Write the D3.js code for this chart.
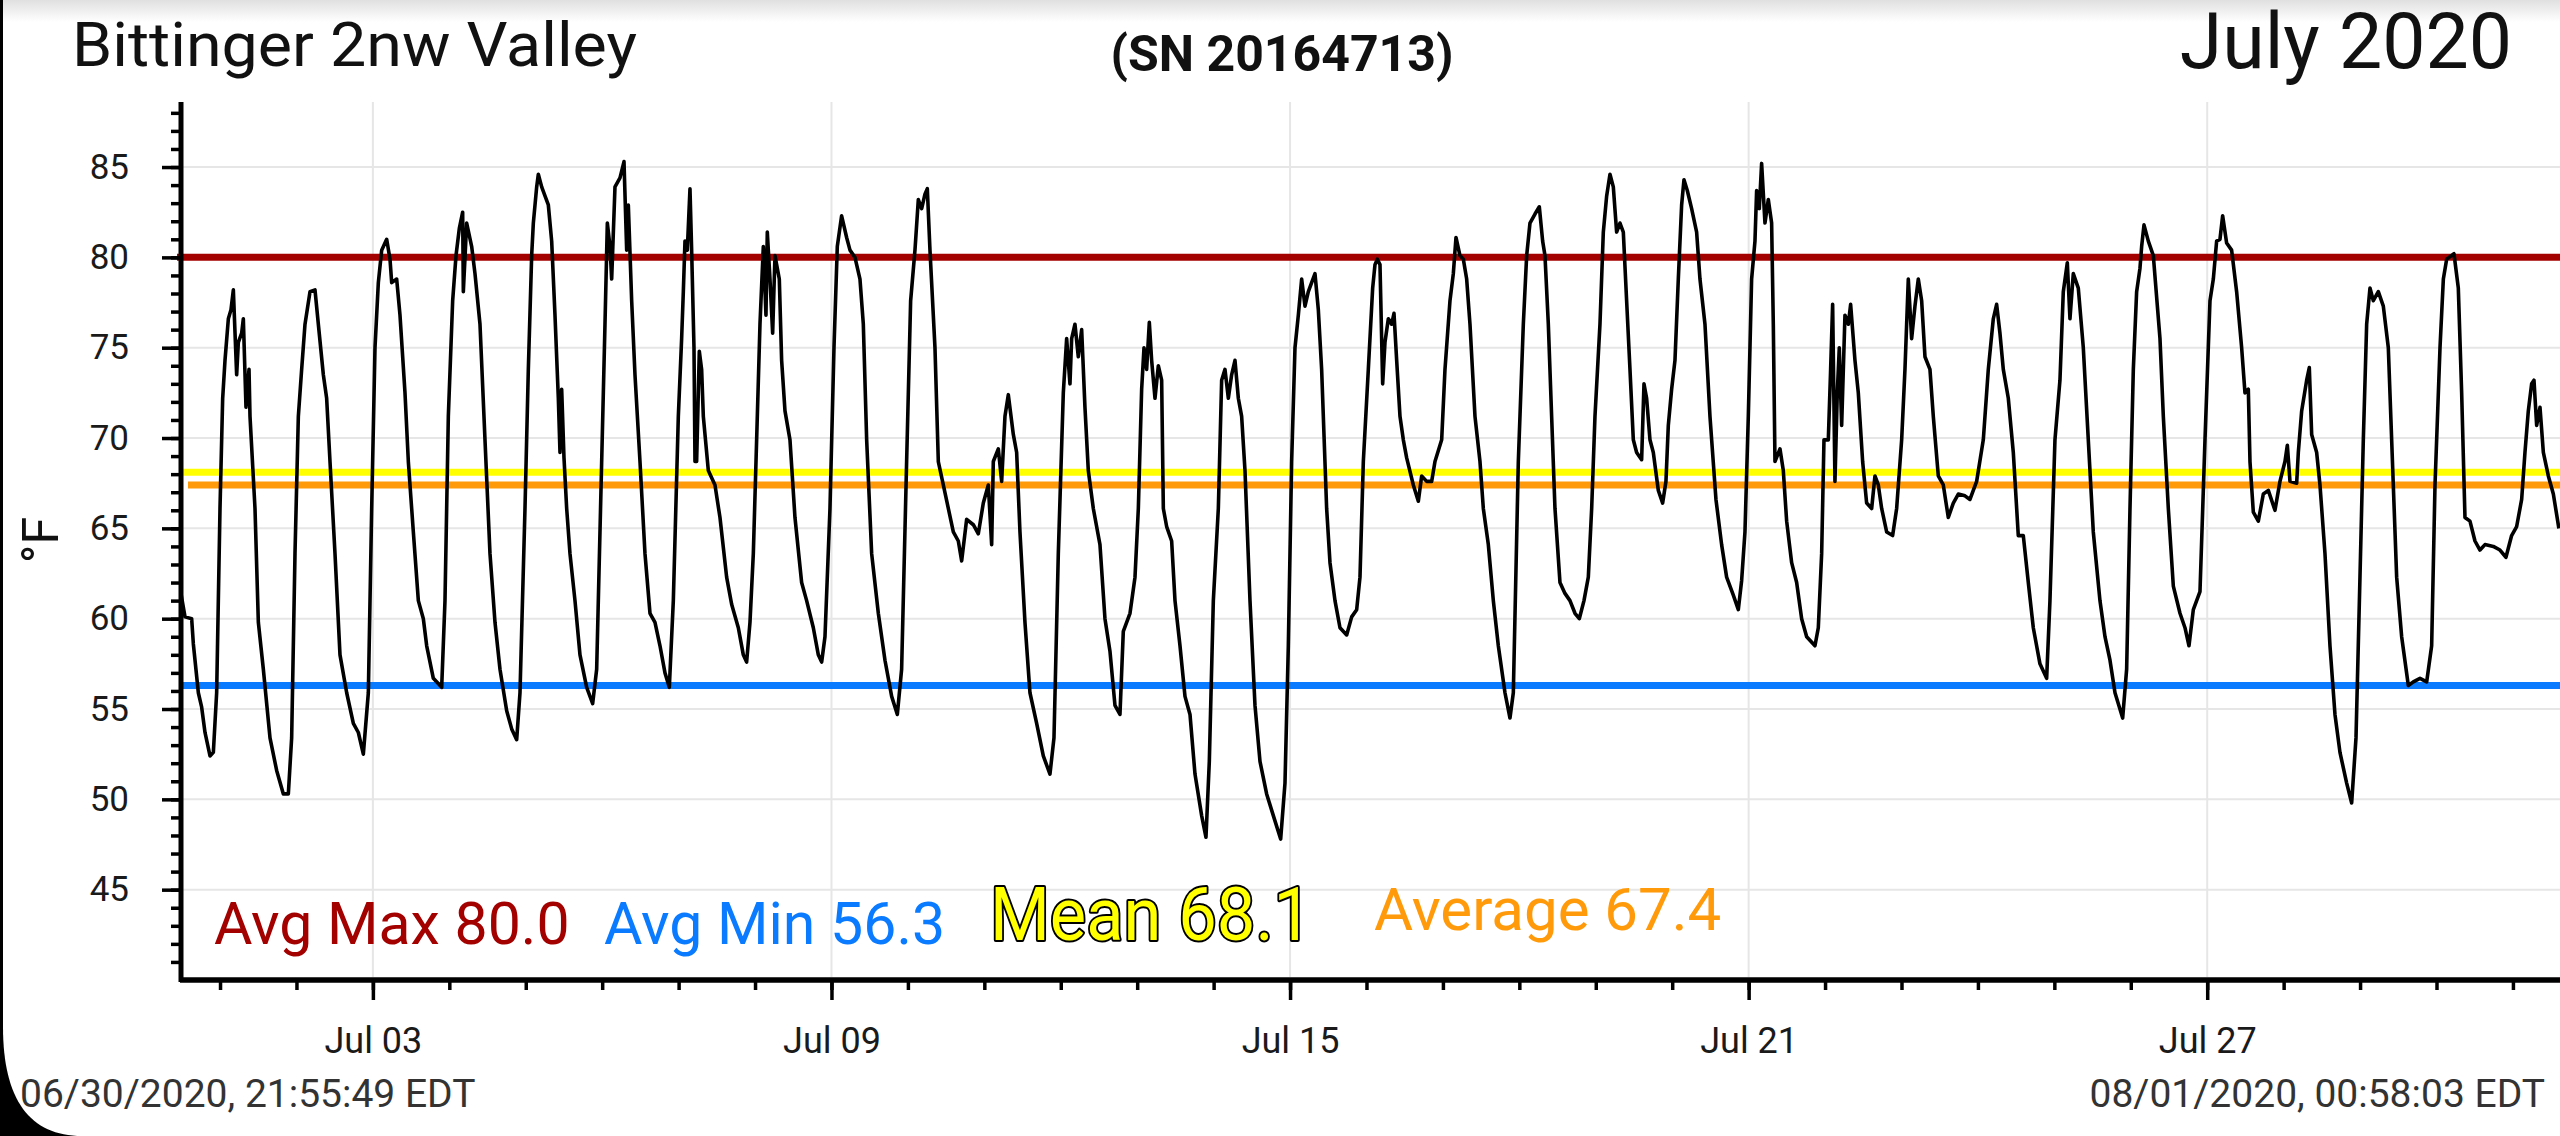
<!DOCTYPE html>
<html>
<head>
<meta charset="utf-8">
<script src="https://cdn.jsdelivr.net/npm/d3@7"></script>
<style>
	html, body { margin: 0; padding: 0; background: #000; }
	svg { display: block; font-family: Roboto, "Noto Sans", sans-serif; }
</style>
</head>
<body>
<svg id="chart" width="2560" height="1136"></svg>
<script>
// ---- data ----
var stationName = "Bittinger 2nw Valley";
var serialLabel = "(SN 20164713)";
var monthLabel = "July 2020";
var startLabel = "06/30/2020, 21:55:49 EDT";
var endLabel = "08/01/2020, 00:58:03 EDT";

// EDT wall clock, kept as UTC so the browser timezone does not matter
var startTime = Date.UTC(2020, 5, 30, 21, 55, 49);
var endTime = Date.UTC(2020, 7, 1, 0, 58, 3);

var yMajorTicks = [45, 50, 55, 60, 65, 70, 75, 80, 85];
var xMajorDays = [3, 9, 15, 21, 27];           // July
var xMinorDays = d3.range(1, 32);              // every day of July
var tickHour = 10.5;                           // the chart puts its day ticks mid-morning

var statNames = ["Avg Max", "Avg Min", "Mean", "Average"];
var statValues = [80.0, 56.3, 68.1, 67.4];

// [hours since logger start, °F]
var readings = [
	[0,61.7],[1.57,60.1],[3.66,60.0],[4.19,58.6],[5.76,55.9],[6.8,55.1],[7.85,53.7],[9.42,52.4],[10.47,52.6],[11.51,55.9],
	[12.56,66.1],[13.4,72.2],[14.13,74.3],[15.18,76.6],[16.01,77.1],[16.75,78.2],[17.79,73.5],[18.32,75.3],[19.36,75.8],[19.89,76.6],
	[20.72,71.7],[21.67,73.8],[21.98,71.2],[23.55,66.1],[24.6,59.8],[26.17,57.2],[28.26,53.4],[30.35,51.6],[32.45,50.3],[34.02,50.3],
	[35.06,53.4],[36.11,63.6],[37.16,71.2],[38.2,73.8],[39.25,76.3],[40.82,78.1],[42.39,78.2],[43.44,76.3],[45.01,73.5],[46.05,72.2],
	[47.1,68.7],[48.67,63.6],[50.24,58.0],[52.34,55.9],[54.43,54.2],[56.0,53.7],[57.57,52.5],[59.14,55.9],[60.19,66.1],[61.23,75.0],
	[62.28,78.6],[63.33,80.4],[64.9,81.0],[65.94,79.9],[66.47,78.6],[68.04,78.8],[69.08,76.8],[70.65,72.5],[71.7,68.7],[73.27,64.8],
	[74.84,61.0],[76.41,60.0],[77.46,58.5],[79.55,56.7],[82.17,56.2],[83.21,61.0],[84.26,71.2],[85.62,77.6],[86.67,80.1],[87.71,81.6],
	[88.76,82.5],[88.97,78.1],[90.02,81.9],[91.59,80.6],[92.63,79.1],[94.2,76.3],[95.77,69.9],[97.34,63.6],[98.91,59.8],[100.48,57.2],
	[102.58,54.9],[104.15,53.9],[105.72,53.3],[106.76,55.9],[108.33,66.1],[109.38,73.8],[110.43,80.1],[110.95,81.9],[112.0,83.9],[112.52,84.6],
	[113.57,83.9],[114.61,83.4],[115.66,82.9],[116.71,80.9],[117.75,76.8],[118.8,72.2],[119.32,69.2],[119.85,72.7],[120.58,68.9],[121.42,66.1],
	[122.46,63.6],[124.03,61.0],[125.6,58.0],[127.7,56.2],[129.58,55.3],[130.84,57.2],[132.41,68.7],[133.45,76.3],[134.19,81.9],[135.02,80.6],
	[135.55,78.8],[136.59,83.9],[138.16,84.4],[139.42,85.3],[140.26,80.4],[140.78,82.9],[141.83,77.6],[142.87,73.5],[144.44,68.7],[146.01,63.6],
	[147.58,60.3],[149.15,59.8],[150.72,58.5],[152.29,57.0],[153.65,56.2],[154.91,61.0],[156.48,71.2],[157.52,75.5],[158.05,78.1],[158.57,80.9],
	[159.3,80.4],[160.14,83.8],[160.66,80.4],[161.4,75.0],[161.71,68.7],[162.23,68.7],[163.07,74.8],[163.8,73.8],[164.33,71.2],[165.9,68.2],
	[167.99,67.4],[169.56,65.6],[171.65,62.3],[173.22,60.8],[175.32,59.5],[176.89,58.0],[177.93,57.6],[178.98,59.8],[180.03,63.6],[181.07,69.9],
	[182.12,76.3],[183.17,80.6],[184.0,76.8],[184.42,81.4],[185.26,78.8],[186.1,75.8],[186.83,80.1],[188.19,78.8],[188.92,74.3],[189.97,71.5],
	[191.54,69.9],[193.11,65.6],[195.2,62.0],[196.77,61.0],[198.87,59.5],[200.44,58.0],[201.49,57.6],[202.53,59.0],[204.1,66.1],[205.36,75.0],
	[206.4,80.6],[207.76,82.3],[209.33,81.1],[210.38,80.4],[211.95,80.0],[213.52,78.8],[214.57,76.3],[215.62,69.9],[217.19,63.6],[219.28,60.3],
	[221.37,57.7],[223.47,55.7],[225.25,54.7],[226.6,57.2],[228.17,68.7],[229.43,77.6],[230.79,80.4],[231.84,83.2],[232.89,82.7],[233.93,83.5],
	[234.67,83.8],[235.5,80.4],[237.07,75.0],[238.12,68.7],[239.69,67.4],[241.26,66.1],[242.83,64.8],[244.4,64.3],[245.45,63.2],[247.02,65.5],
	[249.11,65.2],[250.68,64.7],[252.25,66.4],[253.82,67.4],[254.87,64.1],[255.39,68.7],[256.96,69.4],[258.01,67.6],[259.05,71.2],[260.1,72.4],
	[261.67,70.2],[262.72,69.2],[263.76,64.8],[265.33,59.8],[266.9,55.9],[269.0,54.2],[271.09,52.4],[273.18,51.4],[274.44,53.4],[275.8,63.6],
	[277.37,72.5],[278.42,75.5],[279.46,73.0],[279.99,75.5],[281.03,76.3],[282.08,74.5],[283.13,76.0],[284.17,71.7],[285.22,68.2],[286.79,66.1],
	[288.88,64.1],[290.45,60.0],[292.02,58.2],[293.59,55.2],[295.16,54.7],[296.21,59.3],[298.31,60.3],[299.88,62.3],[300.93,66.1],[301.97,72.7],
	[302.71,75.0],[303.54,73.8],[304.38,76.4],[305.11,74.3],[306.16,72.2],[307.21,74.0],[308.25,73.2],[308.78,66.1],[309.82,65.1],[311.39,64.3],
	[312.44,61.0],[314.01,58.5],[315.58,55.7],[317.15,54.7],[318.72,51.4],[320.81,49.1],[322.17,47.9],[323.22,52.1],[324.48,61.0],[326.05,66.1],
	[327.09,73.2],[328.14,73.8],[329.19,72.2],[330.23,73.5],[331.28,74.3],[332.33,72.2],[333.37,71.2],[334.42,68.2],[335.99,61.0],[337.56,55.2],
	[339.13,52.1],[341.22,50.3],[343.32,49.1],[345.62,47.8],[346.98,50.9],[348.03,58.5],[349.07,68.7],[350.12,75.0],[351.17,76.8],[352.21,78.8],
	[353.26,77.3],[354.31,78.1],[355.35,78.6],[356.4,79.1],[357.45,77.1],[358.49,73.8],[360.06,66.1],[361.11,63.1],[362.68,61.0],[364.25,59.5],
	[366.35,59.1],[367.92,60.1],[369.49,60.5],[370.53,62.3],[371.58,68.7],[373.15,73.8],[374.51,78.3],[375.24,79.6],[375.98,79.9],[376.81,79.6],
	[377.65,73.0],[378.38,75.3],[379.43,76.6],[380.48,76.3],[381.21,76.9],[382.05,74.3],[383.09,71.2],[384.14,69.9],[385.19,68.9],[387.28,67.4],
	[388.85,66.5],[389.9,67.9],[391.47,67.6],[393.04,67.6],[394.08,68.7],[396.18,69.9],[397.22,73.8],[398.79,77.6],[399.84,79.1],[400.68,81.1],
	[401.93,80.1],[402.98,79.9],[404.03,78.8],[405.07,76.3],[406.64,71.2],[408.21,68.7],[409.26,66.1],[410.83,64.1],[412.4,61.0],[413.97,58.5],
	[416.06,55.9],[417.63,54.5],[418.68,55.9],[420.25,68.7],[421.82,76.3],[422.87,80.1],[423.91,81.9],[425.48,82.4],[426.84,82.8],[427.89,80.9],
	[428.62,80.1],[429.67,76.3],[430.71,71.2],[431.76,66.1],[433.33,62.0],[434.9,61.4],[436.47,61.0],[438.04,60.3],[439.4,60.0],[440.87,61.0],
	[442.23,62.3],[443.28,66.1],[444.32,71.2],[445.89,76.3],[446.94,81.4],[447.99,83.4],[449.03,84.6],[450.08,83.9],[451.12,81.4],[452.17,81.9],
	[453.22,81.4],[454.26,77.6],[455.31,73.8],[456.36,69.9],[457.4,69.2],[458.97,68.8],[459.71,73.0],[460.54,72.2],[461.59,69.9],[462.64,69.2],
	[464.21,67.1],[465.57,66.4],[466.61,67.6],[467.35,70.7],[468.39,72.7],[469.44,74.3],[470.49,78.8],[471.53,82.9],[472.27,84.3],[473.31,83.7],
	[474.67,82.7],[476.24,81.4],[477.29,78.8],[478.86,76.3],[480.43,71.2],[482.31,66.6],[484.09,64.1],[485.66,62.3],[487.76,61.3],[489.33,60.5],
	[490.37,62.1],[491.42,64.8],[492.47,71.2],[493.51,78.8],[494.56,80.9],[495.08,83.7],[495.92,82.7],[496.65,85.2],[497.7,81.9],[498.75,83.2],
	[499.79,81.9],[500.32,76.3],[500.84,68.7],[502.41,69.4],[503.46,68.2],[504.51,65.4],[506.08,63.1],[507.65,62.0],[509.22,60.0],[510.79,59.0],
	[513.4,58.5],[514.45,59.5],[515.5,63.6],[516.23,69.9],[517.59,69.9],[518.32,73.8],[518.95,77.4],[519.68,67.6],[520.41,72.5],[521.04,75.0],
	[521.78,70.7],[522.82,76.8],[523.87,76.3],[524.6,77.4],[525.96,74.3],[527.01,72.5],[528.37,68.7],[529.63,66.4],[531.2,66.1],[532.24,67.9],
	[533.29,67.4],[534.34,66.1],[535.91,64.8],[537.79,64.6],[539.05,66.1],[540.62,69.9],[541.66,73.8],[542.71,78.8],[543.76,75.5],[544.8,77.3],
	[545.85,78.8],[546.9,77.6],[547.94,74.5],[549.51,73.8],[550.56,71.2],[552.13,67.9],[553.7,67.4],[555.27,65.6],[556.84,66.4],[558.41,66.9],
	[560.5,66.8],[562.07,66.6],[564.17,67.6],[566.26,69.9],[567.83,73.8],[569.4,76.6],[570.45,77.4],[571.49,75.8],[572.54,73.8],[574.11,72.2],
	[575.68,69.2],[577.25,64.6],[578.82,64.6],[580.39,62.0],[581.96,59.5],[584.05,57.5],[586.15,56.7],[587.19,61.0],[588.76,69.9],[590.33,73.2],
	[591.38,78.1],[592.64,79.7],[593.47,76.6],[594.52,79.1],[596.09,78.3],[597.66,75.0],[599.23,69.9],[600.8,64.8],[602.89,61.0],[604.47,59.0],
	[606.04,57.7],[607.61,55.9],[610.02,54.5],[611.27,57.2],[612.32,66.1],[613.37,73.8],[614.41,78.1],[615.46,79.4],[615.98,80.6],[616.72,81.8],
	[618.08,80.9],[619.65,80.1],[620.69,77.8],[621.74,75.5],[622.79,71.2],[624.36,66.1],[625.93,61.8],[628.02,60.3],[629.59,59.5],[630.85,58.5],
	[632.21,60.5],[634.3,61.5],[635.87,69.9],[637.44,77.6],[638.49,78.8],[639.53,80.9],[640.58,81.0],[641.42,82.3],[642.67,80.8],[644.24,80.4],
	[645.81,78.1],[647.38,75.0],[648.43,72.5],[649.48,72.7],[650.0,68.7],[651.05,65.9],[652.62,65.4],[654.19,66.9],[655.76,67.1],[657.85,66.0],
	[659.42,67.6],[660.99,68.7],[661.73,69.6],[662.56,67.6],[664.66,67.5],[665.18,69.2],[666.23,71.5],[667.8,73.2],[668.63,73.9],[669.37,70.2],
	[670.94,69.2],[671.98,67.4],[673.55,63.6],[675.12,58.5],[676.69,54.7],[678.26,52.6],[680.36,50.9],[681.93,49.8],[683.29,53.4],[684.54,62.3],
	[685.59,69.9],[686.64,76.3],[687.68,78.3],[688.73,77.6],[690.3,78.1],[691.87,77.3],[693.44,75.0],[694.49,69.9],[696.06,62.3],[697.63,59.0],
	[699.72,56.3],[701.29,56.5],[703.39,56.7],[705.48,56.5],[707.05,58.5],[708.1,67.4],[709.67,75.0],[710.72,78.8],[711.76,79.9],[714.06,80.2],
	[715.42,78.3],[716.47,72.5],[717.51,65.6],[719.08,65.4],[720.65,64.3],[722.22,63.8],[723.79,64.1],[726.41,64.0],[728.5,63.8],[730.38,63.4],
	[732.16,64.6],[733.74,65.1],[735.31,66.6],[736.35,69.2],[737.4,71.5],[738.45,73.0],[739.18,73.2],[740.02,70.7],[741.07,71.7],[742.12,69.2],
	[743.69,67.9],[745.26,66.9],[747.0,65.0]
];

// ---- layout ----
var W = 2560, H = 1136;
var plot = {left: 180, right: 2559, top: 102, bottom: 980};

var svg = d3.select("#chart");

// screen frame: black phone edge with a rounded lower-left corner
svg.append("path")
	.attr("fill", "#fff")
	.attr("d", "M3,0H" + W + "V" + H + "H82C30,1136 3,1100 3,1027Z");

var defs = svg.append("defs");
var grad = defs.append("linearGradient")
	.attr("id", "topShade")
	.attr("x1", 0).attr("y1", 0).attr("x2", 0).attr("y2", 1);
grad.append("stop").attr("offset", 0).attr("stop-color", "#e0e0e0");
grad.append("stop").attr("offset", 1).attr("stop-color", "#fff");
svg.append("rect")
	.attr("x", 3).attr("y", 0)
	.attr("width", W - 3).attr("height", 22)
	.attr("fill", "url(#topShade)");

defs.append("clipPath").attr("id", "plotClip")
	.append("rect")
	.attr("x", plot.left).attr("y", plot.top)
	.attr("width", W - plot.left).attr("height", plot.bottom - plot.top);

// ---- scales ----
var x = d3.scaleUtc()
	.domain([new Date(startTime), new Date(endTime)])
	.range([plot.left, plot.right]);

var y = d3.scaleLinear()
	.domain([40, 88.6])
	.range([plot.bottom, plot.top]);

function dayTick(d) { return new Date(Date.UTC(2020, 6, d) + tickHour * 3600e3); }
function readingTime(r) { return new Date(startTime + r[0] * 3600e3); }

// ---- grid ----
svg.append("g")
	.selectAll("line")
	.data(yMajorTicks)
	.enter().append("line")
	.attr("x1", plot.left + 3).attr("x2", W)
	.attr("y1", function (d) { return y(d); })
	.attr("y2", function (d) { return y(d); })
	.attr("stroke", "#e6e6e6").attr("stroke-width", 2);

svg.append("g")
	.selectAll("line")
	.data(xMajorDays)
	.enter().append("line")
	.attr("x1", function (d) { return x(dayTick(d)); })
	.attr("x2", function (d) { return x(dayTick(d)); })
	.attr("y1", plot.top).attr("y2", plot.bottom - 3)
	.attr("stroke", "#e6e6e6").attr("stroke-width", 2);

// ---- summary lines ----
var statColors = ["#a30000", "#0a7bff", "#ffff00", "#ff9a0a"];
var statStart = [177, 182, 182, 188];

svg.append("g")
	.selectAll("line")
	.data(statValues)
	.enter().append("line")
	.attr("x1", function (d, i) { return statStart[i]; })
	.attr("x2", W)
	.attr("y1", function (d) { return y(d); })
	.attr("y2", function (d) { return y(d); })
	.attr("stroke", function (d, i) { return statColors[i]; })
	.attr("stroke-width", 7);

// ---- temperature trace ----
var line = d3.line()
	.x(function (d) { return x(readingTime(d)); })
	.y(function (d) { return y(d[1]); });

svg.append("path")
	.datum(readings)
	.attr("clip-path", "url(#plotClip)")
	.attr("fill", "none")
	.attr("stroke", "#000")
	.attr("stroke-width", 3.6)
	.attr("stroke-linejoin", "round")
	.attr("d", line);

// ---- axes ----
function styleAxis(g) {
	g.select(".domain").remove();
	g.selectAll(".tick line").attr("stroke", "#000").attr("stroke-width", 3.5);
	g.selectAll(".tick text")
		.attr("fill", "#1a1a1a")
		.attr("font-family", "Roboto, sans-serif");
}

// y minor (every degree) then major with labels
svg.append("g")
	.attr("transform", "translate(" + plot.left + ",0)")
	.call(d3.axisLeft(y).tickValues(d3.range(41, 89)).tickSize(9).tickFormat(""))
	.call(styleAxis);

svg.append("g")
	.attr("transform", "translate(" + plot.left + ",0)")
	.call(d3.axisLeft(y).tickValues(yMajorTicks).tickSize(18).tickPadding(33))
	.call(styleAxis)
	.selectAll(".tick text").attr("font-size", 35);

// x minor (daily) then major with labels
svg.append("g")
	.attr("transform", "translate(0," + plot.bottom + ")")
	.call(d3.axisBottom(x).tickValues(xMinorDays.map(dayTick)).tickSize(10).tickFormat(""))
	.call(styleAxis);

svg.append("g")
	.attr("transform", "translate(0," + plot.bottom + ")")
	.call(d3.axisBottom(x).tickValues(xMajorDays.map(dayTick)).tickSize(20).tickPadding(27)
		.tickFormat(d3.utcFormat("%b %d")))
	.call(styleAxis)
	.selectAll(".tick text").attr("font-size", 36);

// axis lines
svg.append("line")
	.attr("x1", plot.left).attr("x2", W)
	.attr("y1", plot.bottom).attr("y2", plot.bottom)
	.attr("stroke", "#000").attr("stroke-width", 5.5);
svg.append("line")
	.attr("x1", plot.left + 1).attr("x2", plot.left + 1)
	.attr("y1", plot.top).attr("y2", plot.bottom + 2)
	.attr("stroke", "#000").attr("stroke-width", 5);

svg.append("text")
	.attr("transform", "translate(58,540) rotate(-90)")
	.attr("text-anchor", "middle")
	.attr("font-size", 50)
	.attr("fill", "#111")
	.text("°F");

// ---- titles ----
svg.append("text")
	.attr("x", 72).attr("y", 66)
	.attr("font-size", 61)
	.attr("textLength", 565).attr("lengthAdjust", "spacingAndGlyphs")
	.attr("fill", "#111")
	.text(stationName);

svg.append("text")
	.attr("x", 1282).attr("y", 71)
	.attr("text-anchor", "middle")
	.attr("font-size", 50).attr("font-weight", "bold")
	.attr("fill", "#111")
	.text(serialLabel);

svg.append("text")
	.attr("x", 2512).attr("y", 68)
	.attr("text-anchor", "end")
	.attr("font-size", 77)
	.attr("fill", "#111")
	.text(monthLabel);

svg.append("text")
	.attr("x", 20).attr("y", 1107)
	.attr("font-size", 39)
	.attr("fill", "#333")
	.text(startLabel);

svg.append("text")
	.attr("x", 2545).attr("y", 1107)
	.attr("text-anchor", "end")
	.attr("font-size", 39)
	.attr("fill", "#333")
	.text(endLabel);

// ---- summary labels ----
var legend = svg.append("g");

legend.append("text")
	.attr("x", 214).attr("y", 944)
	.attr("font-size", 59).attr("fill", "#a30000")
	.text(statNames[0] + " " + statValues[0].toFixed(1));

legend.append("text")
	.attr("x", 604).attr("y", 944)
	.attr("font-size", 59).attr("fill", "#0a7bff")
	.text(statNames[1] + " " + statValues[1].toFixed(1));

legend.append("text")
	.attr("x", 990).attr("y", 940)
	.attr("font-size", 74)
	.attr("textLength", 322).attr("lengthAdjust", "spacingAndGlyphs")
	.attr("fill", "#ffff00")
	.attr("stroke", "#000").attr("stroke-width", 4)
	.attr("paint-order", "stroke fill")
	.attr("stroke-linejoin", "round")
	.text(statNames[2] + " " + statValues[2].toFixed(1));

legend.append("text")
	.attr("x", 1374).attr("y", 930)
	.attr("font-size", 60).attr("fill", "#ff9a0a")
	.text(statNames[3] + " " + statValues[3].toFixed(1));
</script>
</body>
</html>
